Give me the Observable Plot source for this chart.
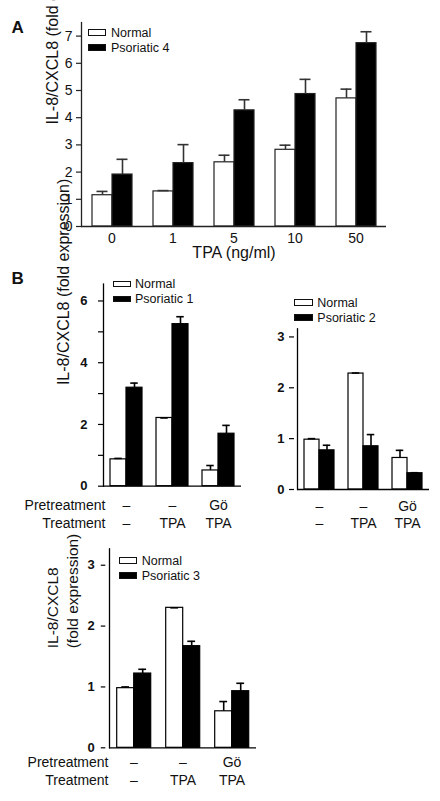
<!DOCTYPE html>
<html><head><meta charset="utf-8">
<script src="https://cdn.jsdelivr.net/npm/d3@7"></script>
<script src="https://cdn.jsdelivr.net/npm/@observablehq/plot@0.6"></script>
<style>
body{margin:0;background:#fff;}
#fig{position:relative;width:440px;height:801px;font-family:"Liberation Sans",Arial,sans-serif;color:#111;overflow:hidden;background:#fff;}
#fig svg{position:absolute;overflow:visible;}
.letter{position:absolute;font-weight:bold;font-size:17px;line-height:17px;}
.lg{position:absolute;display:flex;align-items:center;height:14px;font-size:12.5px;white-space:nowrap;}
.sw{display:inline-block;box-sizing:border-box;border:1.2px solid #111;}
</style></head><body><div id="fig"></div>
<script>
// ---- data ----
const series = ["Normal", "Psoriatic"];

// Panel A: TPA dose response
const tpaDoses = ["0", "1", "5", "10", "50"];
const normalA = [1.15, 1.29, 2.36, 2.82, 4.71];
const normalErrA = [0.14, 0.03, 0.26, 0.17, 0.34];
const psoriaticA = [1.91, 2.33, 4.27, 4.87, 6.74];
const psoriaticErrA = [0.56, 0.68, 0.39, 0.54, 0.42];
const yTicksA = [0, 1, 2, 3, 4, 5, 6, 7];
const legendA = ["Normal", "Psoriatic 4"];

// Panel B: conditions
const conditions = ["none", "TPA", "Gö+TPA"];
const pretreatment = ["–", "–", "Gö"];
const treatment = ["–", "TPA", "TPA"];

const normalB1 = [0.87, 2.21, 0.51];
const normalErrB1 = [0.03, 0.0, 0.16];
const psoriaticB1 = [3.19, 5.25, 1.70];
const psoriaticErrB1 = [0.15, 0.24, 0.27];
const yTicksB1 = [0, 2, 4, 6];
const yMinorB1 = [1, 3, 5];
const legendB1 = ["Normal", "Psoriatic 1"];

const normalB2 = [0.98, 2.28, 0.62];
const normalErrB2 = [0.02, 0.01, 0.15];
const psoriaticB2 = [0.77, 0.85, 0.32];
const psoriaticErrB2 = [0.10, 0.23, 0.01];
const yTicksB2 = [0, 1, 2, 3];
const legendB2 = ["Normal", "Psoriatic 2"];

const normalB3 = [0.98, 2.30, 0.60];
const normalErrB3 = [0.02, 0.0, 0.16];
const psoriaticB3 = [1.22, 1.67, 0.93];
const psoriaticErrB3 = [0.07, 0.08, 0.13];
const yTicksB3 = [0, 1, 2, 3];
const legendB3 = ["Normal", "Psoriatic 3"];

const yTitle = "IL-8/CXCL8 (fold expression)";
const yTitleTwoLines = "IL-8/CXCL8\n(fold expression)";
const xTitleA = "TPA (ng/ml)";

// ---- helpers ----
function rows(groups, nv, ne, pv, pe) {
  return groups.flatMap((g, i) => [
    {group: g, series: series[0], value: nv[i], err: ne[i]},
    {group: g, series: series[1], value: pv[i], err: pe[i]}
  ]);
}
const condTable = conditions.map((c, i) => ({group: c, pre: pretreatment[i], treat: treatment[i]}));
const fig = document.getElementById("fig");
const intFormat = d3.format("d");

function panel(o) {
  const data = rows(o.groups, o.nv, o.ne, o.pv, o.pe);
  const shift = -(o.axisShift || 0);
  const marks = [
    Plot.barY(data, {fx: "group", x: "series", y: "value", fill: "series", stroke: o.ink, strokeWidth: 1.2}),
    Plot.ruleX(data, {fx: "group", x: "series", y1: "value", y2: d => d.value + d.err, stroke: o.errInk, strokeWidth: 1.6}),
    Plot.tickY(data, {fx: "group", x: "series", y: d => d.value + d.err, insetLeft: o.cap, insetRight: o.cap, stroke: o.errInk, strokeWidth: 1.6}),
    Plot.ruleY([0], {stroke: o.ink, strokeWidth: 1.3}),
    Plot.frame({anchor: "left", facet: "super", stroke: o.ink, strokeWidth: 1.3}),
    Plot.axisY({facetAnchor: "left", dx: shift, ticks: o.yTicks, tickFormat: intFormat, tickSize: o.tickSize, tickPadding: o.tickPadding, fontSize: o.tickFont, fontWeight: o.tickWeight, label: null, stroke: o.ink, strokeWidth: 1.2})
  ];
  if (o.yMinor) marks.push(Plot.axisY({facetAnchor: "left", dx: shift, ticks: o.yMinor, tickSize: o.tickSize, tickFormat: () => "", label: null, stroke: o.ink, strokeWidth: 1.2}));
  if (o.xAxis) {
    marks.push(Plot.axisFx({anchor: "bottom", tickSize: 0, tickPadding: 7, fontSize: 14, label: null}));
    marks.push(Plot.text([o.xTitle], {facet: "super", text: d => d, frameAnchor: "bottom", lineAnchor: "middle", dy: 26.5, fontSize: 16}));
  }
  if (o.rows) {
    marks.push(Plot.text(condTable, {fx: "group", text: "pre", frameAnchor: "bottom", lineAnchor: "middle", dy: o.rows[0], fontSize: 14}));
    marks.push(Plot.text(condTable, {fx: "group", text: "treat", frameAnchor: "bottom", lineAnchor: "middle", dy: o.rows[1], fontSize: 14}));
  }
  if (o.rowTitles) {
    marks.push(Plot.text(["Pretreatment"], {facet: "super", text: d => d, frameAnchor: "bottom-left", lineAnchor: "middle", textAnchor: "end", dx: o.rowDx, dy: o.rows[0], fontSize: 14}));
    marks.push(Plot.text(["Treatment"], {facet: "super", text: d => d, frameAnchor: "bottom-left", lineAnchor: "middle", textAnchor: "end", dx: o.rowDx, dy: o.rows[1], fontSize: 14}));
  }
  if (o.yTitle) {
    marks.push(Plot.text([o.yTitle], {facet: "super", text: d => d, frameAnchor: "left", lineAnchor: "middle", rotate: -90, dx: o.yTitleOffset, fontSize: o.yTitleFont, lineHeight: 1.3}));
  }
  const svg = Plot.plot({
    width: o.width, height: o.height,
    marginLeft: o.mL, marginRight: o.mR, marginTop: o.mT, marginBottom: o.mB,
    x: {domain: series, paddingInner: 0, paddingOuter: o.xPad, axis: null},
    y: {domain: o.yDomain},
    fx: {domain: o.groups, paddingInner: 0, paddingOuter: o.fxPad || 0, align: 1, axis: null},
    color: {domain: series, range: ["white", "black"]},
    style: {fontFamily: "'Liberation Sans', Arial, sans-serif", fontSize: "14px", color: "#111", background: "transparent", overflow: "visible"},
    marks
  });
  svg.style.left = o.left + "px";
  svg.style.top = o.top + "px";
  fig.appendChild(svg);
  // legend
  o.legend.forEach((name, i) => {
    const row = document.createElement("div");
    row.className = "lg";
    row.style.left = o.lg.x + "px";
    row.style.top = (o.lg.y + i * o.lg.dy - 7) + "px";
    const sw = document.createElement("span");
    sw.className = "sw";
    sw.style.width = o.lg.w + "px";
    sw.style.height = o.lg.h + "px";
    sw.style.marginRight = o.lg.gap + "px";
    sw.style.background = i === 0 ? "white" : "black";
    row.appendChild(sw);
    row.appendChild(document.createTextNode(name));
    fig.appendChild(row);
  });
}

function letter(t, x, y) {
  const d = document.createElement("div");
  d.className = "letter";
  d.textContent = t;
  d.style.left = x + "px"; d.style.top = y + "px";
  fig.appendChild(d);
}

// ---- Panel A ----
panel({
  groups: tpaDoses, nv: normalA, ne: normalErrA, pv: psoriaticA, pe: psoriaticErrA,
  left: 0, top: 0, width: 440, height: 268, mL: 79, mR: 54.5, mT: 22, mB: 42,
  yDomain: [0, 7.5], xPad: 0.49, cap: 4.5, ink: "#222", errInk: "#333",
  yTicks: yTicksA, tickSize: 5, tickPadding: 4, tickFont: 14, tickWeight: "normal",
  xAxis: true, xTitle: xTitleA, yTitle: yTitle, yTitleOffset: -30, yTitleFont: 16,
  legend: legendA, lg: {x: 87.5, y: 32.7, dy: 15, w: 18.5, h: 7, gap: 5}
});
letter("A", 11.5, 18.5);

// ---- Panel B1 ----
panel({
  groups: conditions, nv: normalB1, ne: normalErrB1, pv: psoriaticB1, pe: psoriaticErrB1,
  left: 0, top: 270, width: 250, height: 265, mL: 103, mR: 9, mT: 13.5, mB: 49.3,
  yDomain: [0, 6.55], xPad: 0.394, cap: 4.25, ink: "#000", errInk: "#000",
  yTicks: yTicksB1, yMinor: yMinorB1, tickSize: 5, tickPadding: 11, tickFont: 13, tickWeight: "bold",
  rows: [19.6, 37.6], rowTitles: true, rowDx: 2,
  yTitle: yTitle, yTitleOffset: -41, yTitleFont: 16,
  legend: legendB1, lg: {x: 112.7, y: 283.8, dy: 15, w: 18.5, h: 6.5, gap: 3.8}
});
letter("B", 11.5, 269.5);

// ---- Panel B2 ----
panel({
  groups: conditions, nv: normalB2, ne: normalErrB2, pv: psoriaticB2, pe: psoriaticErrB2,
  left: 230, top: 270, width: 210, height: 265, mL: 57, mR: 11, mT: 58.3, mB: 46,
  yDomain: [0, 3.16], xPad: 0.44, fxPad: 0.0896, axisShift: 8, cap: 3.75, ink: "#000", errInk: "#000",
  yTicks: yTicksB2, tickSize: -5, tickPadding: 10, tickFont: 13, tickWeight: "bold",
  rows: [16.8, 34.3],
  legend: legendB2, lg: {x: 294.3, y: 302.7, dy: 15, w: 19, h: 6.7, gap: 4}
});

// ---- Panel B3 ----
panel({
  groups: conditions, nv: normalB3, ne: normalErrB3, pv: psoriaticB3, pe: psoriaticErrB3,
  left: 0, top: 540, width: 300, height: 261, mL: 104.3, mR: 43.5, mT: 8.3, mB: 53.7,
  yDomain: [0, 3.27], xPad: 0.43, fxPad: 0.0374, axisShift: 3.7, cap: 4.6, ink: "#000", errInk: "#000",
  yTicks: yTicksB3, tickSize: 4.5, tickPadding: 6.5, tickFont: 13, tickWeight: "bold",
  rows: [15, 33.2], rowTitles: true, rowDx: -1,
  yTitle: yTitleTwoLines, yTitleOffset: -47.6, yTitleFont: 15.5,
  legend: legendB3, lg: {x: 119.3, y: 560.7, dy: 15, w: 18, h: 7, gap: 4.4}
});
</script>
</body></html>
